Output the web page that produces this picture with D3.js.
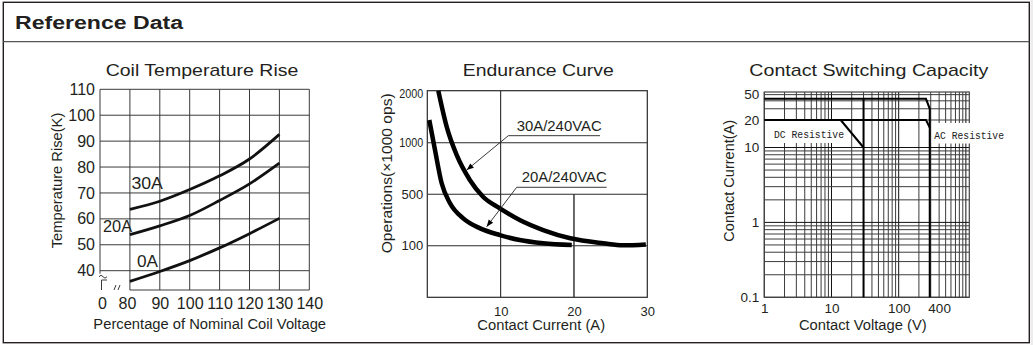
<!DOCTYPE html>
<html>
<head>
<meta charset="utf-8">
<script src="https://cdn.jsdelivr.net/npm/d3@7"></script>
<style>
  html, body { margin: 0; padding: 0; background: #fff; }
  svg { display: block; }
</style>
</head>
<body>
<svg id="chart" width="1033" height="345"></svg>
<script>
// ---------------- DATA ----------------
const pageTitle = "Reference Data";

// Chart 1: Coil Temperature Rise
const coilTitle = "Coil Temperature Rise";
const coilXLabel = "Percentage of Nominal Coil Voltage";
const coilYLabel = "Temperature Rise(K)";
const coilVoltage = [80, 90, 100, 110, 120, 130];
const coilRise30A = [63.7, 66.8, 71.3, 76.6, 83.1, 92.6];
const coilRise20A = [53.9, 57.3, 61.3, 67.1, 73.5, 81.5];
const coilRise0A  = [35.9, 39.7, 43.9, 48.8, 54.3, 60.2];
const coilSeriesNames = ["30A", "20A", "0A"];
const coilXTickValues = [70, 80, 90, 100, 110, 120, 130, 140];
const coilXTickLabels = ["0", "80", "90", "100", "110", "120", "130", "140"];
const coilYTickValues = [40, 50, 60, 70, 80, 90, 100, 110];

// Chart 2: Endurance Curve
const endTitle = "Endurance Curve";
const endXLabel = "Contact Current (A)";
const endYLabel = "Operations(\u00D71000 ops)";
const end30ACurrent = [1.5, 2.64, 4.0, 5.8, 7.6, 9.9, 12.6, 15.8, 19.5, 24.0, 26.7, 29.8];
const end30AOps     = [2000, 1308, 881, 639, 481, 391, 300, 222, 158, 119, 103, 110];
const end20ACurrent = [0.27, 1.05, 1.96, 3.1, 4.9, 7.2, 9.9, 12.6, 15.8, 19.7];
const end20AOps     = [1437, 929, 607, 430, 313, 235, 183, 144, 119, 105];
const endSeriesNames = ["30A/240VAC", "20A/240VAC"];
const endXTickValues = [10, 20, 30];
const endYTickValues = [100, 500, 1000, 2000];
// annotation anchor points (current, ops): label start, elbow, underline end, arrow tip
const endNoteLabel  = [[12.19, 1231], [12.87, 616]];
const endNoteElbow  = [[11.05, 1135], [12.19, 568]];
const endNoteLineTo = [23.55, 24.46];
const endNoteTip    = [[5.37, 735], [8.1, 248]];

// Chart 3: Contact Switching Capacity
const capTitle = "Contact Switching Capacity";
const capXLabel = "Contact Voltage (V)";
const capYLabel = "Contact Current(A)";
const capACVolts  = [1, 255, 290, 290];
const capACAmps   = [43, 43, 30, 0.1];
const cap20Volts  = [1, 255, 290];
const cap20Amps   = [20, 20, 16.5];
const capDCDiagVolts = [13.7, 30];
const capDCDiagAmps  = [20, 10];
const capDCVertVolts = [30, 30];
const capDCVertAmps  = [43, 0.1];
const capSeriesNames = ["DC Resistive", "AC Resistive"];
const capXTickValues = [1, 10, 100, 400];
const capYTickValues = [0.1, 1, 10, 20, 50];

// ---------------- DRAWING ----------------
const SANS = "'Liberation Sans', Arial, Helvetica, sans-serif";
const MONO = "'Liberation Mono', 'DejaVu Sans Mono', monospace";
const svg = d3.select("#chart");
const INK = "#231f20";

function text(g, x, y, s, o = {}) {
  const t = g.append("text")
    .attr("transform", `translate(${x},${y}) rotate(${o.rotate || 0})`)
    .attr("font-family", o.family || SANS)
    .attr("font-size", o.size || 14)
    .attr("font-weight", o.weight || "normal")
    .attr("text-anchor", o.anchor || "start")
    .attr("fill", o.fill || INK)
    .text(s);
  if (o.width) t.attr("textLength", o.width).attr("lengthAdjust", "spacingAndGlyphs");
  return t;
}

// Frame
svg.append("rect").attr("x", 1030.5).attr("y", 0).attr("width", 3).attr("height", 345).attr("fill", "#ececec");
svg.append("rect").attr("x", 3.3).attr("y", 2.3).attr("width", 1026).attr("height", 340.4)
  .attr("fill", "none").attr("stroke", INK).attr("stroke-width", 1.4);
svg.append("line").attr("x1", 3.3).attr("x2", 1029.3).attr("y1", 41.7).attr("y2", 41.7)
  .attr("stroke", "#555").attr("stroke-width", 1.2);
text(svg, 15, 29, pageTitle, { size: 18, weight: "bold", width: 168 });

// ===== Chart 1 =====
{
  const g = svg.append("g");
  const x = d3.scaleLinear().domain([70, 140]).range([100, 309.3]);
  const y = d3.scaleLinear().domain([32.55, 110]).range([290, 89.3]);
  const gridColor = "#3a3a3a";
  g.selectAll(".hg").data(coilYTickValues).join("line")
    .attr("x1", x(70)).attr("x2", x(140))
    .attr("y1", d => y(d)).attr("y2", d => y(d))
    .attr("stroke", gridColor).attr("stroke-width", 1);
  g.selectAll(".vg").data(coilXTickValues.slice(1)).join("line")
    .attr("x1", d => x(d)).attr("x2", d => x(d))
    .attr("y1", y(110)).attr("y2", y(32.55))
    .attr("stroke", gridColor).attr("stroke-width", 1);
  // left border with axis break
  g.append("path").attr("d", `M${x(70)},${y(110)}V${y(40) + 3}`)
    .attr("stroke", gridColor).attr("fill", "none");
  g.append("path").attr("d", `M${x(70) - 1},${y(40) + 6} q2,-3 4,0 q2,3 4,0`)
    .attr("stroke", gridColor).attr("fill", "none");
  g.append("path").attr("d", `M${x(70) + 7},${y(32.55) - 10} H${x(70) + 1.5} V${y(32.55)}`)
    .attr("stroke", gridColor).attr("fill", "none");
  g.append("path").attr("d", `M${x(70) + 14},${y(32.55)} l2,-5 M${x(70) + 18},${y(32.55)} l2,-5`)
    .attr("stroke", gridColor).attr("fill", "none");
  g.append("line").attr("x1", x(80)).attr("x2", x(140)).attr("y1", y(32.55)).attr("y2", y(32.55))
    .attr("stroke", gridColor);

  const ya = g.append("g").attr("transform", `translate(${x(70)},0)`)
    .call(d3.axisLeft(y).tickValues(coilYTickValues).tickSize(0).tickPadding(5));
  ya.select(".domain").remove();
  ya.selectAll("text").attr("font-family", SANS).attr("font-size", 16).attr("fill", INK);
  const xa = g.append("g").attr("transform", `translate(0,${y(32.55)})`)
    .call(d3.axisBottom(x).tickValues(coilXTickValues).tickSize(0).tickPadding(8)
      .tickFormat((d, i) => coilXTickLabels[i]));
  xa.select(".domain").remove();
  xa.selectAll("text").attr("font-family", SANS).attr("font-size", 16).attr("fill", INK);
  xa.selectAll(".tick").filter((d, i) => i === 0).select("text").attr("x", 2);
  xa.selectAll(".tick").filter((d, i) => i === 1).select("text").attr("x", -3);

  const line = d3.line().x((d, i) => x(coilVoltage[i])).y(d => y(d)).curve(d3.curveMonotoneX);
  [coilRise30A, coilRise20A, coilRise0A].forEach(s => {
    g.append("path").attr("d", line(s)).attr("fill", "none")
      .attr("stroke", "#111").attr("stroke-width", 2.8);
  });
  text(g, x(80) + 1.5, y(71.4), coilSeriesNames[0], { size: 16, width: 31.5 });
  text(g, x(70) + 3, y(55.0), coilSeriesNames[1], { size: 16, width: 29 });
  text(g, x(80) + 7, y(41.5), coilSeriesNames[2], { size: 16, width: 21 });

  text(g, 202, 76, coilTitle, { size: 17, anchor: "middle", width: 192.7 });
  text(g, 209.7, 328.7, coilXLabel, { size: 14, anchor: "middle", width: 232.7 });
  text(g, 62, 180.5, coilYLabel, { size: 14, anchor: "middle", rotate: -90, width: 135.6 });
}

// ===== Chart 2 =====
{
  const g = svg.append("g");
  const x = d3.scaleLinear().domain([0, 30]).range([427.3, 647.3]);
  const y = d3.scaleLinear().domain([0, 100, 500, 1000, 2000]).range([297.3, 245.7, 194.3, 142.7, 90.7]);
  const gc = "#2a2a2a";
  g.selectAll(".hg").data([100, 500, 1000]).join("line")
    .attr("x1", x(0)).attr("x2", x(30)).attr("y1", d => y(d)).attr("y2", d => y(d))
    .attr("stroke", gc).attr("stroke-width", 1.1);
  g.append("line").attr("x1", x(10)).attr("x2", x(10)).attr("y1", y(2000)).attr("y2", y(0))
    .attr("stroke", gc).attr("stroke-width", 1.1);
  g.append("line").attr("x1", x(20)).attr("x2", x(20)).attr("y1", y(500)).attr("y2", y(0))
    .attr("stroke", gc).attr("stroke-width", 1.4);
  g.append("rect").attr("x", x(0)).attr("y", y(2000)).attr("width", x(30) - x(0)).attr("height", y(0) - y(2000))
    .attr("fill", "none").attr("stroke", gc).attr("stroke-width", 1.2);

  const ya = g.append("g").attr("transform", `translate(${x(0)},0)`)
    .call(d3.axisLeft(y).tickValues(endYTickValues).tickSize(0).tickPadding(4).tickFormat(d3.format("d")));
  ya.select(".domain").remove();
  ya.selectAll("text").attr("font-family", SANS).attr("font-size", 13).attr("fill", INK);
  ya.selectAll("text").filter(d => d >= 1000).attr("textLength", 24).attr("lengthAdjust", "spacingAndGlyphs");
  ya.selectAll(".tick").filter(d => d === 2000).select("text").attr("dy", "0.5em");
  const xa = g.append("g").attr("transform", `translate(0,${y(0)})`)
    .call(d3.axisBottom(x).tickValues(endXTickValues).tickSize(0).tickPadding(9));
  xa.select(".domain").remove();
  xa.selectAll("text").attr("font-family", SANS).attr("font-size", 13).attr("fill", INK);

  const line = d3.line().x(d => x(d[0])).y(d => y(d[1])).curve(d3.curveMonotoneX);
  const s30 = end30ACurrent.map((c, i) => [c, end30AOps[i]]);
  const s20 = end20ACurrent.map((c, i) => [c, end20AOps[i]]);
  [s30, s20].forEach(s => {
    g.append("path").attr("d", line(s)).attr("fill", "none")
      .attr("stroke", "#000").attr("stroke-width", 4.5);
  });

  const defs = svg.append("defs");
  defs.append("marker").attr("id", "arr").attr("viewBox", "0 0 10 10")
    .attr("refX", 10).attr("refY", 5).attr("markerWidth", 9).attr("markerHeight", 7)
    .attr("markerUnits", "userSpaceOnUse").attr("orient", "auto")
    .append("path").attr("d", "M0,1 L10,5 L0,9 Z").attr("fill", "#000");
  endSeriesNames.forEach((name, i) => {
    const [ex, ey] = endNoteElbow[i];
    g.append("line").attr("x1", x(ex)).attr("y1", y(ey)).attr("x2", x(endNoteLineTo[i])).attr("y2", y(ey))
      .attr("stroke", "#222").attr("stroke-width", 0.9);
    g.append("line").attr("x1", x(ex)).attr("y1", y(ey))
      .attr("x2", x(endNoteTip[i][0])).attr("y2", y(endNoteTip[i][1]))
      .attr("stroke", "#222").attr("stroke-width", 0.9).attr("marker-end", "url(#arr)");
    text(g, x(endNoteLabel[i][0]), y(endNoteLabel[i][1]), name, { size: 14.5, width: 85 });
  });

  text(g, 538.3, 76, endTitle, { size: 17, anchor: "middle", width: 151 });
  text(g, 541.2, 329.5, endXLabel, { size: 14, anchor: "middle", width: 127.7 });
  text(g, 392, 173.3, endYLabel, { size: 14, anchor: "middle", rotate: -90, width: 160 });
}

// ===== Chart 3 =====
{
  const g = svg.append("g");
  const x = d3.scaleLog().domain([1, 1125]).range([764.3, 969.3]);
  // log-decade scale as drawn on the sheet (upper decade is slightly compressed)
  const yl = d3.scaleLinear()
    .domain([-1, 0, 1, Math.log10(20), Math.log10(55)])
    .range([297.3, 222.4, 147.5, 120, 92]);
  const y = v => yl(Math.log10(v));
  const xg = [], yg = [];
  [1, 10, 100].forEach(k => { for (let m = 1; m <= 9; m++) xg.push(m * k); });
  xg.push(1000);
  [0.1, 1].forEach(k => { for (let m = 1; m <= 9; m++) yg.push(+(m * k).toFixed(2)); });
  [10, 20, 30, 40, 50].forEach(v => yg.push(v));
  g.selectAll(".vg").data(xg).join("line")
    .attr("x1", d => x(d)).attr("x2", d => x(d)).attr("y1", y(55)).attr("y2", y(0.1))
    .attr("stroke", d => [1, 10, 100, 1000].includes(d) ? "#111" : "#3c3c3c").attr("stroke-width", 1);
  g.selectAll(".hg").data(yg).join("line")
    .attr("x1", x(1)).attr("x2", x(1125)).attr("y1", d => y(d)).attr("y2", d => y(d))
    .attr("stroke", d => [0.1, 1, 10].includes(d) ? "#111" : "#3c3c3c").attr("stroke-width", 1);
  g.append("rect").attr("x", x(1)).attr("y", y(55)).attr("width", x(1125) - x(1)).attr("height", y(0.1) - y(55))
    .attr("fill", "none").attr("stroke", "#444").attr("stroke-width", 1.2);

  g.append("rect").attr("x", 765).attr("y", 121).attr("width", 82).attr("height", 22).attr("fill", "#fff");
  g.append("rect").attr("x", 931.8).attr("y", 123).attr("width", 76).attr("height", 20.5).attr("fill", "#fff");

  // y tick labels
  g.selectAll(".ytl").data(capYTickValues).join("text")
    .attr("x", x(1) - 5).attr("y", d => y(d)).attr("dy", "0.35em")
    .attr("text-anchor", "end").attr("font-family", SANS).attr("font-size", 13.5).attr("fill", INK)
    .text(d3.format("~g"));
  const xa = g.append("g").attr("transform", `translate(0,${y(0.1)})`)
    .call(d3.axisBottom(x).tickValues(capXTickValues).tickSize(0).tickPadding(6).tickFormat(d3.format("~g")));
  xa.select(".domain").remove();
  xa.selectAll("text").attr("font-family", SANS).attr("font-size", 13.5).attr("fill", INK);

  const line = d3.line().x(d => x(d[0])).y(d => y(d[1]));
  const zip = (a, b) => a.map((v, i) => [v, b[i]]);
  [zip(capACVolts, capACAmps), zip(cap20Volts, cap20Amps), zip(capDCDiagVolts, capDCDiagAmps), zip(capDCVertVolts, capDCVertAmps)]
    .forEach(s => g.append("path").attr("d", line(s)).attr("fill", "none")
      .attr("stroke", "#000").attr("stroke-width", 2));

  text(g, 774, 137.5, capSeriesNames[0], { size: 11.5, family: MONO, width: 70, fill: "#222" });
  text(g, 934.3, 139, capSeriesNames[1], { size: 11.5, family: MONO, width: 69.7, fill: "#222" });

  text(g, 868.8, 76, capTitle, { size: 17, anchor: "middle", width: 239 });
  text(g, 862.8, 329.5, capXLabel, { size: 14, anchor: "middle", width: 127.7 });
  text(g, 734, 180.8, capYLabel, { size: 14, anchor: "middle", rotate: -90, width: 121.7 });
}
</script>
</body>
</html>
